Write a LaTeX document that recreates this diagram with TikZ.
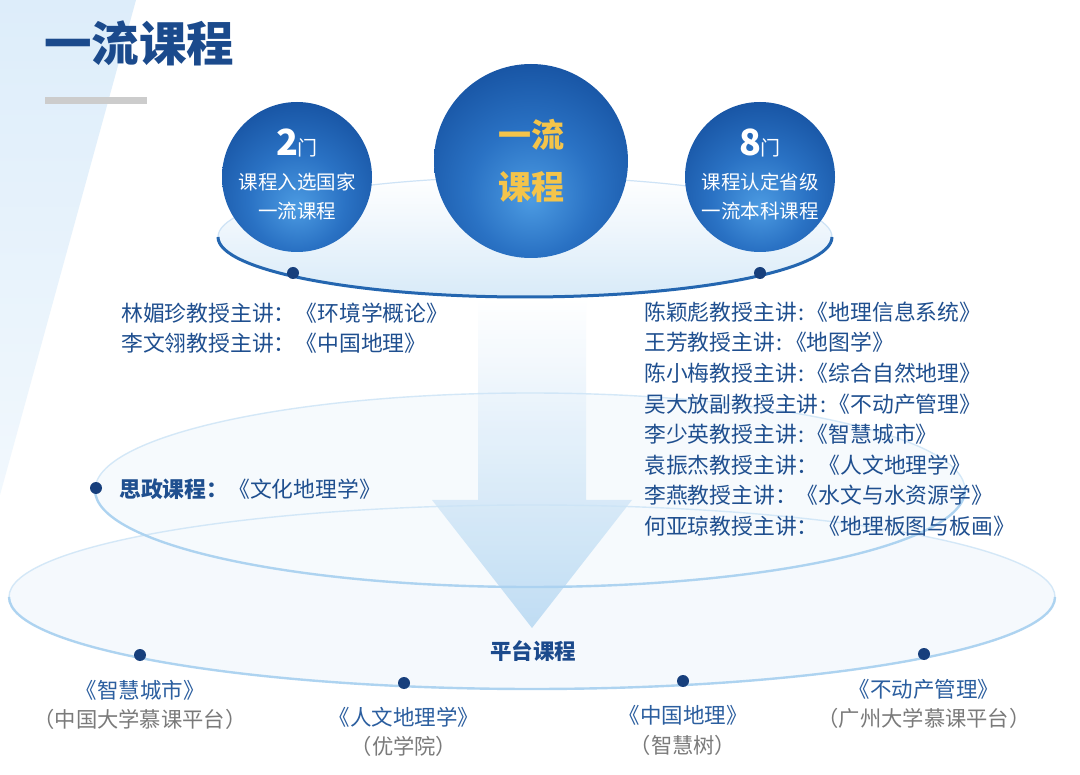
\documentclass[tikz,border=0pt]{standalone}
\usepackage{fontspec}
\setmainfont{Noto Sans CJK SC}
\definecolor{navy}{HTML}{1B4A8C}
\definecolor{listblue}{HTML}{1F4F8F}
\definecolor{labblue}{HTML}{2B5E9F}
\definecolor{graytxt}{HTML}{7A7A7A}
\definecolor{gold}{HTML}{F4C44A}
\definecolor{bandblue}{HTML}{DDEDFA}
\definecolor{ringdark}{HTML}{2466B0}
\definecolor{ringlight}{HTML}{9CC8EC}
\definecolor{ringfaint}{HTML}{A9D1F0}
\definecolor{dotblue}{HTML}{173F7C}
\definecolor{sphA}{HTML}{4C9BE2}
\definecolor{sphB}{HTML}{2A72C4}
\definecolor{sphC}{HTML}{15509F}
\definecolor{sphD}{HTML}{0A3275}
\pgfdeclareradialshading{spherefill}{\pgfpoint{0bp}{-10bp}}{color(0bp)=(sphA); color(16bp)=(sphB); color(34bp)=(sphC); color(52bp)=(sphD); color(80bp)=(sphD)}
\tikzset{
  ttl/.style={font=\fontsize{47.5}{50}\selectfont\bfseries, text=navy, inner sep=0pt},
  listtxt/.style={font=\fontsize{21.8}{24}\selectfont, text=listblue, inner sep=0pt, anchor=west},
  sphtxt/.style={font=\fontsize{19.5}{22}\selectfont, text=white, inner sep=0pt},
  goldtxt/.style={font=\fontsize{33}{36}\selectfont\bfseries, text=gold, inner sep=0pt},
  labtxt/.style={font=\fontsize{21.5}{24}\selectfont, text=labblue, inner sep=0pt},
  subtxt/.style={font=\fontsize{21.3}{24}\selectfont, text=graytxt, inner sep=0pt},
  dotnode/.style={circle, fill=dotblue, minimum size=12pt, inner sep=0pt},
  sphere/.style={shading=spherefill},
}
\begin{document}
\begin{tikzpicture}[x=1pt,y=-1pt]
\useasboundingbox (0,0) rectangle (1080,775);
\fill[white] (0,0) rectangle (1080,775);
% left band
\shade[top color=bandblue, bottom color=bandblue!40] (0,0) -- (136,0) -- (0,495) -- cycle;
% title and bar
\node[ttl, anchor=west] (title) at (44,43) {一流课程};
\fill[black!20] (45,97) rectangle (147,104);
% bottom and middle ellipse fills
\fill[ringfaint!12] (532,597) ellipse (523pt and 92pt);
\fill[ringfaint!10] (530,490) ellipse (435pt and 97pt);
% arrow
\shade[top color=white, bottom color=ringfaint!80, opacity=0.9]
  (478,298) -- (586,298) -- (586,500) -- (632,500) -- (532,628) -- (432,500) -- (478,500) -- cycle;
% ellipse strokes
\draw[ringfaint!60, line width=1.4pt, opacity=0.8] (532,597) ellipse (523pt and 92pt);
\draw[ringfaint, line width=2.4pt, opacity=0.9] (532,597) ++(-523pt,0) arc[start angle=180, end angle=360, x radius=523pt, y radius=92pt];
\draw[ringfaint!60, line width=1.4pt, opacity=0.8] (530,490) ellipse (435pt and 97pt);
\draw[ringfaint, line width=2.4pt, opacity=0.9] (530,490) ++(-435pt,0) arc[start angle=180, end angle=360, x radius=435pt, y radius=97pt];
% top ellipse
\shade[top color=white, bottom color=ringfaint!45] (525,237) ellipse (307pt and 60pt);
\draw[ringlight!50, line width=1.2pt] (525,237) ellipse (307pt and 60pt);
% spheres
\shade[sphere] (297,177) circle (75pt);
\shade[sphere] (531,161) circle (97pt);
\shade[sphere] (760,177) circle (75pt);
% top ellipse front arc
\draw[ringdark, line width=3pt] (525,237) ++(-307pt,0) arc[start angle=180, end angle=360, x radius=307pt, y radius=60pt];
% sphere texts
\node[inner sep=0pt, text=white] (n2) at (297,143) {{\fontsize{36}{36}\selectfont\bfseries 2}{\fontsize{20}{20}\selectfont 门}};
\node[sphtxt] (l1) at (297,182) {课程入选国家};
\node[sphtxt] (l2) at (297,211) {一流课程};
\node[inner sep=0pt, text=white] (n8) at (760,143) {{\fontsize{36}{36}\selectfont\bfseries 8}{\fontsize{20}{20}\selectfont 门}};
\node[sphtxt] (r1) at (760,182) {课程认定省级};
\node[sphtxt] (r2) at (760,211) {一流本科课程};
\node[goldtxt] (c1) at (531,135) {一流};
\node[goldtxt] (c2) at (531,187) {课程};
% dots on top ellipse
\node[dotnode] (d1) at (293,273) {};
\node[dotnode] (d2) at (760,273) {};
% left list
\node[listtxt] (ll1) at (121,313) {林媚珍教授主讲：《环境学概论》};
\node[listtxt] (ll2) at (121,343) {李文翎教授主讲：《中国地理》};
% right list
\node[listtxt] (rl1) at (644,312) {陈颖彪教授主讲\hspace{2pt}:\hspace{2pt}《地理信息系统》};
\node[listtxt] (rl2) at (644,342.6) {王芳教授主讲\hspace{2pt}:\hspace{2pt}《地图学》};
\node[listtxt] (rl3) at (644,373.2) {陈小梅教授主讲\hspace{2pt}:\hspace{2pt}《综合自然地理》};
\node[listtxt] (rl4) at (644,403.8) {吴大放副教授主讲\hspace{2pt}:\hspace{2pt}《不动产管理》};
\node[listtxt] (rl5) at (644,434.4) {李少英教授主讲\hspace{2pt}:\hspace{2pt}《智慧城市》};
\node[listtxt] (rl6) at (644,465) {袁振杰教授主讲：《人文地理学》};
\node[listtxt] (rl7) at (644,495.6) {李燕教授主讲：《水文与水资源学》};
\node[listtxt] (rl8) at (644,526.2) {何亚琼教授主讲：《地理板图与板画》};
% sizheng
\node[dotnode] (d3) at (96,488) {};
\node[listtxt] (sz) at (119,489) {{\bfseries 思政课程：}《文化地理学》};
% platform
\node[inner sep=0pt, font=\fontsize{21.5}{24}\selectfont\bfseries, text=navy] (pt) at (533,651) {平台课程};
\node[dotnode] (b1) at (140,655) {};
\node[dotnode] (b2) at (404,683) {};
\node[dotnode] (b3) at (683,681) {};
\node[dotnode] (b4) at (924,654) {};
\node[labtxt] (t1) at (140,690) {《智慧城市》};
\node[subtxt] (s1) at (140,719) {（中国大学慕课平台）};
\node[labtxt] (t2) at (404,717) {《人文地理学》};
\node[subtxt] (s2) at (404,746) {（优学院）};
\node[labtxt] (t3) at (683,715) {《中国地理》};
\node[subtxt] (s3) at (683,745) {（智慧树）};
\node[labtxt] (t4) at (924,689) {《不动产管理》};
\node[subtxt] (s4) at (924,718) {（广州大学慕课平台）};
\end{tikzpicture}
\end{document}
